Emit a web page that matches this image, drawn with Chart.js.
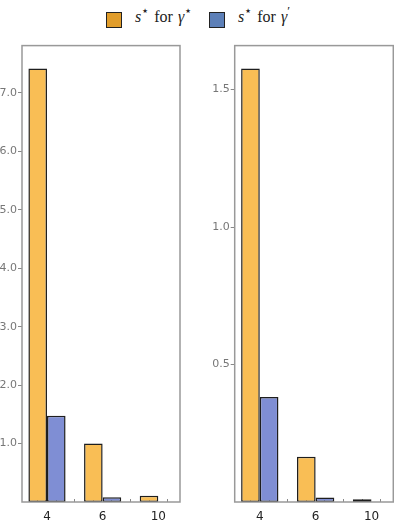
<!DOCTYPE html>
<html>
<head>
<meta charset="utf-8">
<script src="https://cdn.jsdelivr.net/npm/chart.js@4"></script>
<style>
  body { margin: 0; background: #fff; width: 394px; height: 530px; position: relative; overflow: hidden; }
  .box { position: absolute; }
  .key { position: absolute; top: 12px; width: 14px; height: 14px; border: 1px solid #222; box-sizing: content-box; }
  .lbl { position: absolute; top: 8px; font-family: "Liberation Serif", serif; font-size: 16px; color: #222; white-space: nowrap; word-spacing: 1px; }
  .lbl i { font-style: italic; }
  .lbl sup { font-size: 13px; line-height: 0; position: relative; top: -1px; }
</style>
</head>
<body>
<div class="key" style="left:106px;background:#e19d2b"></div>
<div class="lbl" style="left:135px"><i>s</i><sup>⋆</sup> for <i>γ</i><sup>⋆</sup></div>
<div class="key" style="left:209px;background:#5d80b8"></div>
<div class="lbl" style="left:238px"><i>s</i><sup>⋆</sup> for <i>γ</i><sup>′</sup></div>

<div class="box" style="left:0;top:38px;width:181px;height:492px"><canvas id="leftChart"></canvas></div>
<div class="box" style="left:212px;top:38px;width:182px;height:492px"><canvas id="rightChart"></canvas></div>

<script>
// valores
const categories = ["4", "6", "10"];
const leftStar = [7.42, 1.0, 0.107];
const leftPrime = [1.475, 0.08, 0];
const rightStar = [1.577, 0.165, 0.01];
const rightPrime = [0.382, 0.016, 0];
const leftTicks = [1, 2, 3, 4, 5, 6, 7];
const rightTicks = [0.5, 1.0, 1.5];

const orangeBar = "#f9be55";
const blueBar = "#7f8ed4";

// moldura em volta da área do gráfico
const framePlugin = {
  id: "frame",
  afterDatasetsDraw(chart) {
    const a = chart.chartArea, c = chart.ctx;
    c.save();
    c.strokeStyle = "#999";
    c.lineWidth = 1.5;
    c.strokeRect(a.left, a.top, a.right - a.left, a.bottom - a.top);
    c.restore();
  }
};

function toPoints(vals) {
  return vals.map((v, i) => ({ x: i, y: v }));
}

function makeChart(id, star, prime, yMax, yTicks, yWidth, padRight) {
  const xMin = -0.449, xMax = 2.39;
  const ds = (vals, color) => ({
    data: toPoints(vals), xAxisID: "x", yAxisID: "y",
    backgroundColor: color, borderColor: "#1e1e1e", borderWidth: 1.5, borderSkipped: false,
    categoryPercentage: 0.668, barPercentage: 1
  });
  return new Chart(document.getElementById(id), {
    type: "bar",
    data: { datasets: [ds(star, orangeBar), ds(prime, blueBar)] },
    options: {
      responsive: true,
      maintainAspectRatio: false,
      animation: false,
      layout: { padding: { top: 7, right: padRight, left: 0, bottom: 0 } },
      plugins: { legend: { display: false }, tooltip: { enabled: false } },
      scales: {
        x: {
          type: "linear", position: "bottom", min: xMin, max: xMax, offset: false,
          afterBuildTicks: s => { s.ticks = categories.map((c, i) => ({ value: i })); },
          afterFit: s => { s.height = 28; },
          grid: { display: false, drawTicks: false, offset: false },
          border: { display: false },
          ticks: {
            padding: 8,
            color: "#222",
            font: { family: "DejaVu Sans", size: 12 },
            callback: v => categories[v]
          }
        },
        xm: {
          type: "linear", position: "bottom", weight: -1, min: xMin, max: xMax, offset: false,
          afterBuildTicks: s => { s.ticks = [-1/6, 1/6, 1/2, 5/6, 7/6, 3/2, 11/6, 13/6].map(v => ({ value: v })); },
          afterFit: s => { s.height = 0; },
          grid: { drawOnChartArea: false, offset: false, tickLength: -3, tickColor: "#888", tickWidth: 1 },
          border: { display: false },
          ticks: { display: false }
        },
        y: {
          min: 0, max: yMax,
          afterBuildTicks: s => { s.ticks = yTicks.map(v => ({ value: v })); },
          afterFit: s => { s.width = yWidth; },
          grid: { drawOnChartArea: false, tickLength: 4, tickColor: "#888" },
          border: { display: false },
          ticks: {
            padding: 1,
            color: "#777",
            font: { family: "DejaVu Sans", size: 11 },
            callback: v => v.toFixed(1)
          }
        }
      }
    },
    plugins: [framePlugin]
  });
}

makeChart("leftChart", leftStar, leftPrime, 7.81, leftTicks, 22, 1);
makeChart("rightChart", rightStar, rightPrime, 1.66, rightTicks, 22.7, 0.7);
</script>
</body>
</html>
